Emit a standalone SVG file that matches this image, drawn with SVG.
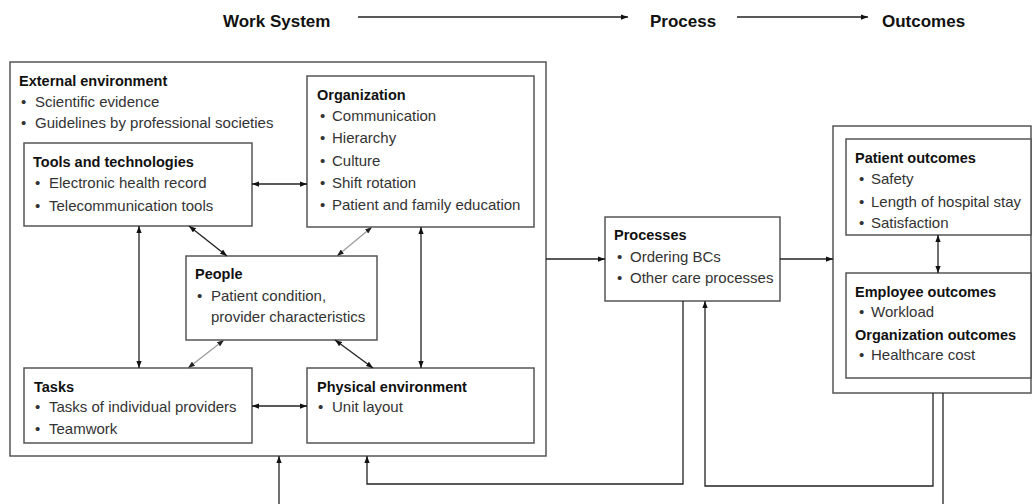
<svg xmlns="http://www.w3.org/2000/svg" width="1032" height="504" viewBox="0 0 1032 504">
<defs>
<style>
.box{fill:#fff;stroke:#555;stroke-width:1.5}
.h{font-family:"Liberation Sans",Arial,sans-serif;font-size:14.5px;font-weight:bold;fill:#111}
.t{font-family:"Liberation Sans",Arial,sans-serif;font-size:15px;fill:#333}
.top{font-family:"Liberation Sans",Arial,sans-serif;font-size:17px;font-weight:bold;fill:#111}
.c{fill:none;stroke:#222;stroke-width:1.3}
.g{fill:none;stroke:#999;stroke-width:1.2}
</style>
<marker id="a" viewBox="0 0 8 6" refX="8" refY="3" markerWidth="7" markerHeight="5.5" markerUnits="userSpaceOnUse" orient="auto-start-reverse"><path d="M0,0 L8,3 L0,6 z" fill="#111"/></marker>
<marker id="ag" viewBox="0 0 8 6" refX="8" refY="3" markerWidth="7" markerHeight="5.5" markerUnits="userSpaceOnUse" orient="auto-start-reverse"><path d="M0,0 L8,3 L0,6 z" fill="#222"/></marker>
</defs>

<g id="header">
<text class="top" x="223" y="27">Work System</text>
<text class="top" x="650" y="27">Process</text>
<text class="top" x="882" y="27">Outcomes</text>
</g>

<g id="work-system">
<rect class="box" x="10" y="62" width="536" height="394"/>
<text class="h" x="19" y="86">External environment</text>
<text class="t" x="21" y="107">•</text><text class="t" x="35" y="107">Scientific evidence</text>
<text class="t" x="21" y="128">•</text><text class="t" x="35" y="128">Guidelines by professional societies</text>
</g>

<g id="organization">
<rect class="box" x="307" y="76" width="227" height="151"/>
<text class="h" x="317" y="100">Organization</text>
<text class="t" x="320" y="121">•</text><text class="t" x="332" y="121">Communication</text>
<text class="t" x="320" y="143">•</text><text class="t" x="332" y="143">Hierarchy</text>
<text class="t" x="320" y="166">•</text><text class="t" x="332" y="166">Culture</text>
<text class="t" x="320" y="188">•</text><text class="t" x="332" y="188">Shift rotation</text>
<text class="t" x="320" y="210">•</text><text class="t" x="332" y="210">Patient and family education</text>
</g>

<g id="tools">
<rect class="box" x="24" y="143" width="228" height="83"/>
<text class="h" x="33" y="167">Tools and technologies</text>
<text class="t" x="35" y="188">•</text><text class="t" x="49" y="188">Electronic health record</text>
<text class="t" x="35" y="211">•</text><text class="t" x="49" y="211">Telecommunication tools</text>
</g>

<g id="people">
<rect class="box" x="186" y="256" width="191" height="84"/>
<text class="h" x="195" y="279">People</text>
<text class="t" x="197" y="301">•</text><text class="t" x="211" y="301">Patient condition,</text>
<text class="t" x="211" y="322">provider characteristics</text>
</g>

<g id="tasks">
<rect class="box" x="24" y="368" width="228" height="75"/>
<text class="h" x="34" y="392">Tasks</text>
<text class="t" x="35" y="412">•</text><text class="t" x="49" y="412">Tasks of individual providers</text>
<text class="t" x="35" y="434">•</text><text class="t" x="49" y="434">Teamwork</text>
</g>

<g id="physical">
<rect class="box" x="307" y="368" width="227" height="75"/>
<text class="h" x="317" y="392">Physical environment</text>
<text class="t" x="318" y="412">•</text><text class="t" x="332" y="412">Unit layout</text>
</g>

<g id="processes">
<rect class="box" x="605" y="217" width="175" height="84"/>
<text class="h" x="614" y="240">Processes</text>
<text class="t" x="617" y="262">•</text><text class="t" x="630" y="262">Ordering BCs</text>
<text class="t" x="617" y="283">•</text><text class="t" x="630" y="283">Other care processes</text>
</g>

<g id="outcomes">
<rect class="box" x="833" y="126" width="198" height="267"/>
</g>

<g id="patient-outcomes">
<rect class="box" x="846" y="139" width="185" height="96"/>
<text class="h" x="855" y="163">Patient outcomes</text>
<text class="t" x="859" y="184">•</text><text class="t" x="871" y="184">Safety</text>
<text class="t" x="859" y="207">•</text><text class="t" x="871" y="207">Length of hospital stay</text>
<text class="t" x="859" y="228">•</text><text class="t" x="871" y="228">Satisfaction</text>
</g>

<g id="employee-outcomes">
<rect class="box" x="846" y="273" width="185" height="105"/>
<text class="h" x="855" y="297">Employee outcomes</text>
<text class="t" x="859" y="317">•</text><text class="t" x="871" y="317">Workload</text>
<text class="h" x="855" y="340">Organization outcomes</text>
<text class="t" x="859" y="360">•</text><text class="t" x="871" y="360">Healthcare cost</text>
</g>

<g id="connectors">
<line class="c" x1="358" y1="17" x2="628" y2="17" marker-end="url(#a)"/>
<line class="c" x1="737" y1="17" x2="868" y2="17" marker-end="url(#a)"/>
<line class="c" x1="546" y1="259" x2="605" y2="259" marker-end="url(#a)"/>
<line class="c" x1="780" y1="259" x2="833" y2="259" marker-end="url(#a)"/>
<line class="c" x1="938" y1="235" x2="938" y2="273" marker-start="url(#a)" marker-end="url(#a)"/>
<line class="c" x1="252" y1="184" x2="307" y2="184" marker-start="url(#a)" marker-end="url(#a)"/>
<line class="c" x1="139" y1="226" x2="139" y2="368" marker-start="url(#a)" marker-end="url(#a)"/>
<line class="c" x1="421" y1="227" x2="421" y2="368" marker-start="url(#a)" marker-end="url(#a)"/>
<line class="c" x1="189" y1="226" x2="227" y2="256" marker-start="url(#a)" marker-end="url(#a)"/>
<line class="g" x1="372" y1="227" x2="337" y2="256" marker-start="url(#ag)" marker-end="url(#ag)"/>
<line class="g" x1="224" y1="340" x2="188" y2="368" marker-start="url(#ag)" marker-end="url(#ag)"/>
<line class="c" x1="335" y1="340" x2="373" y2="368" marker-start="url(#a)" marker-end="url(#a)"/>
<line class="c" x1="252" y1="406" x2="307" y2="406" marker-start="url(#a)" marker-end="url(#a)"/>
<polyline class="c" points="683,301 683,484 367,484 367,456" marker-end="url(#a)"/>
<polyline class="c" points="933,393 933,486 705,486 705,301" marker-end="url(#a)"/>
<line class="c" x1="943" y1="393" x2="943" y2="504"/>
<line class="c" x1="279" y1="504" x2="279" y2="456" marker-end="url(#a)"/>
</g>
</svg>
